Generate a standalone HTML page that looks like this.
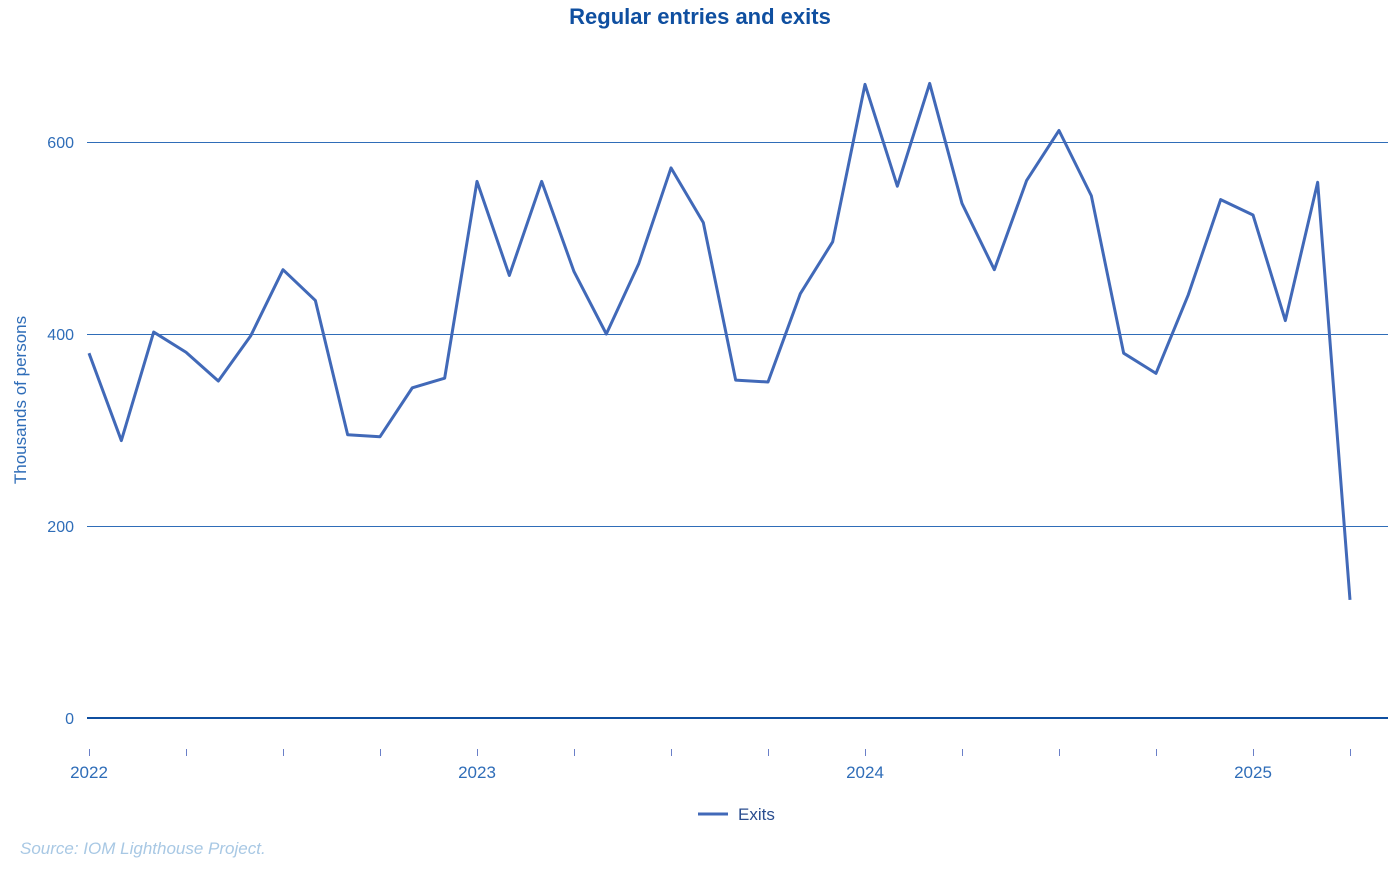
<!DOCTYPE html>
<html><head><meta charset="utf-8"><style>
body{margin:0;background:#fff;font-family:"Liberation Sans",sans-serif;}
svg text{font-family:"Liberation Sans",sans-serif;}
</style></head><body>
<svg width="1400" height="865" xmlns="http://www.w3.org/2000/svg" id="chart">
<text x="700" y="24" text-anchor="middle" font-size="22" font-weight="bold" fill="#0f4fa0">Regular entries and exits</text>
<text transform="translate(26,400) rotate(-90)" text-anchor="middle" font-size="17" fill="#2f6db8">Thousands of persons</text>
<g id="grid"></g><g id="xaxis"></g><g id="series"></g>
<g>
<line x1="698" y1="814" x2="728" y2="814" stroke="#4169b8" stroke-width="3"/>
<text x="738" y="820" font-size="17" fill="#2a4d8f">Exits</text>
</g>
<text x="20" y="854" font-size="17" font-style="italic" fill="#a8c8e4">Source: IOM Lighthouse Project.</text>
</svg>
<script>
const exits=[380,289,402,381,351,398,467,435,295,293,344,354,559,461,559,465,400,473,573,516,352,350,442,496,660,554,661,536,467,560,612,544,380,359,441,540,524,414,558,123];
const yTicks=[0,200,400,600];
const yearLabels=["2022","2023","2024","2025"];
const NS="http://www.w3.org/2000/svg";
const x0=89,dx=(1253-89)/36;
const xs=i=>x0+i*dx;
const ys=v=>718-v*0.96;
function mk(t,a,p){const e=document.createElementNS(NS,t);for(const k in a)e.setAttribute(k,a[k]);p.appendChild(e);return e;}
const grid=document.getElementById('grid');
yTicks.forEach(v=>{
 const l=mk('line',{x1:87,x2:1388,y1:ys(v)+(v===0?0:0.5),y2:ys(v)+(v===0?0:0.5),stroke:v===0?'#0f4fa0':'#2f6db8','stroke-width':v===0?2:1},grid);
 
 
 const t=mk('text',{x:74,y:ys(v)+6,'text-anchor':'end','font-size':16,fill:'#2f6db8'},grid);t.textContent=v;
 
 
});
const xa=document.getElementById('xaxis');
for(let i=0;i<exits.length;i+=3){
 const l=mk('line',{x1:xs(i)+0.5,x2:xs(i)+0.5,y1:749,y2:756,stroke:'#6a7fc8','stroke-width':1},xa);
 
 
}
yearLabels.forEach((y,k)=>{
 const t=mk('text',{x:xs(k*12),y:778,'text-anchor':'middle','font-size':17,fill:'#2f6db8'},xa);t.textContent=y;
 
 
});
const p=mk('path',{d:exits.map((v,i)=>(i?'L':'M')+xs(i)+','+ys(v)).join(''),fill:'none',stroke:'#4169b8','stroke-width':3,'stroke-linejoin':'round'},document.getElementById('series'));


</script>
</body></html>
